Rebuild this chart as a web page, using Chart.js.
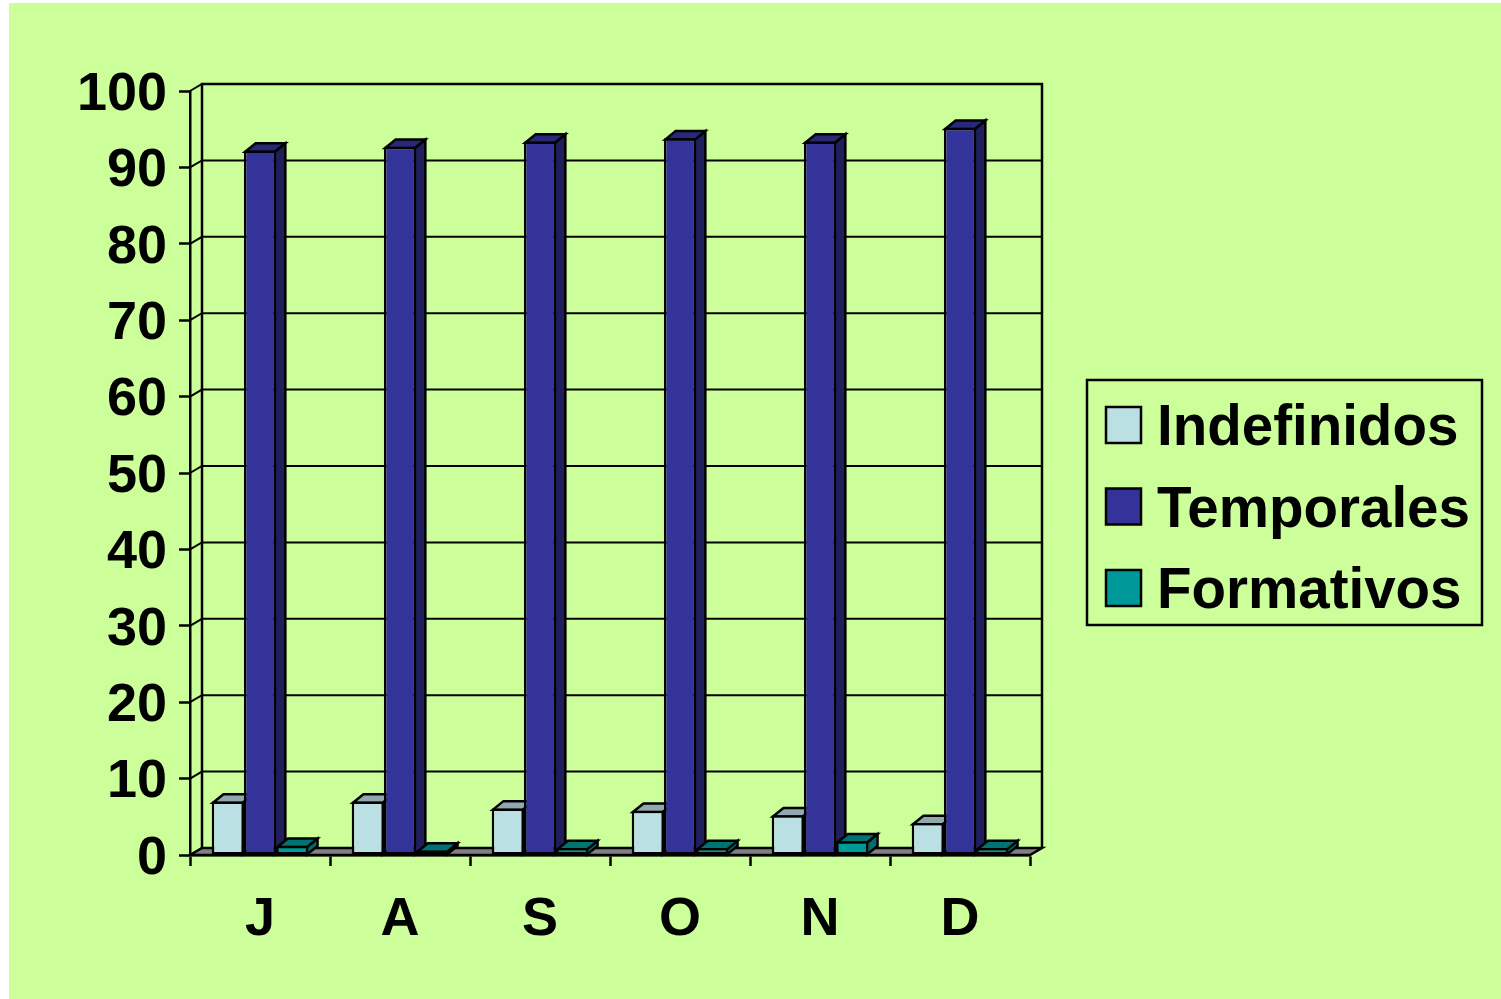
<!DOCTYPE html>
<html>
<head>
<meta charset="utf-8">
<style>
html,body{margin:0;padding:0;background:#fff;width:1501px;height:999px;overflow:hidden}
#panel{position:absolute;left:9px;top:3px;width:1492px;height:996px;background:#CCFF99}
canvas{position:absolute;left:0;top:0}
</style>
<script src="https://cdn.jsdelivr.net/npm/chart.js@4"></script>
</head>
<body>
<div id="panel"></div>
<canvas id="c" width="1501" height="999" style="width:1501px;height:999px"></canvas>
<script>
const categories = ['J','A','S','O','N','D'];
const indefinidos = [7.0,7.0,6.1,5.8,5.2,4.2];
const temporales = [92.2,92.7,93.4,93.8,93.4,95.2];
const formativos = [1.2,0.6,0.9,0.9,1.8,0.9];
const yTicks = {min:0,max:100,step:10};

const WALL = {dx:12,dy:-7};
const DEPTH = {dx:10.5,dy:-8.5};
const BORDER = 2.5;
const faces = [
  {top:'#91A9AE',side:'#7D9195'},
  {top:'#29297A',side:'#1F1F5C'},
  {top:'#007373',side:'#006B6B'}
];

function poly(ctx,pts,fill){
  ctx.beginPath();
  pts.forEach((p,i)=> i?ctx.lineTo(p[0],p[1]):ctx.moveTo(p[0],p[1]));
  ctx.closePath();
  if(fill){ctx.fillStyle=fill;ctx.fill();}
  ctx.stroke();
}

const scene = {
  id:'scene',
  beforeDatasetsDraw(chart){
    const {ctx,chartArea:a,scales:{y}} = chart;
    ctx.save();
    ctx.strokeStyle='#000';ctx.lineWidth=2;ctx.lineJoin='miter';
    const r=a.right+WALL.dx, l=a.left+WALL.dx;
    y.ticks.forEach(t=>{
      const py=y.getPixelForValue(t.value);
      ctx.beginPath();
      ctx.moveTo(a.left,py);ctx.lineTo(l,py+WALL.dy);
      if(t.value>0) ctx.lineTo(r,py+WALL.dy);
      ctx.stroke();
    });
    ctx.lineWidth=2.5;
    ctx.beginPath();
    ctx.moveTo(l,a.bottom+WALL.dy);ctx.lineTo(l,a.top+WALL.dy);
    ctx.lineTo(r,a.top+WALL.dy);ctx.lineTo(r,a.bottom+WALL.dy);
    ctx.stroke();
    poly(ctx,[[a.left,a.bottom],[l,a.bottom+WALL.dy],[r,a.bottom+WALL.dy],[a.right,a.bottom]],'#808080');
    const inset=BORDER/2;
    chart.data.datasets.forEach((ds,i)=>{
      chart.getDatasetMeta(i).data.forEach(b=>{
        const x0=b.x-b.width/2+inset,x1=b.x+b.width/2-inset,t=b.y+inset,bt=b.base;
        poly(ctx,[[x1,t],[x1+DEPTH.dx,t+DEPTH.dy],[x1+DEPTH.dx,bt+DEPTH.dy],[x1,bt]],faces[i].side);
        poly(ctx,[[x0,t],[x0+DEPTH.dx,t+DEPTH.dy],[x1+DEPTH.dx,t+DEPTH.dy],[x1,t]],faces[i].top);
      });
    });
    ctx.restore();
  },
  afterDraw(chart){
    const ctx=chart.ctx;
    ctx.save();
    ctx.strokeStyle='#000';ctx.lineWidth=2.5;
    ctx.strokeRect(1087,380,395,245);
    ctx.font='bold 56.5px "Liberation Sans"';
    ctx.textBaseline='alphabetic';ctx.textAlign='left';
    chart.data.datasets.forEach((ds,i)=>{
      const base=445+i*81.5;
      ctx.fillStyle=ds.backgroundColor;
      ctx.fillRect(1106,base-38,35,36);
      ctx.strokeRect(1106,base-38,35,36);
      ctx.fillStyle='#000';
      ctx.fillText(ds.label,1157,base);
    });
    ctx.restore();
  }
};

const common = {borderColor:'#000',borderWidth:BORDER,borderSkipped:false,barPercentage:1,categoryPercentage:0.69};
new Chart(document.getElementById('c'),{
  type:'bar',
  data:{labels:categories,datasets:[
    {label:'Indefinidos',data:indefinidos,backgroundColor:'#BBE0E3',...common},
    {label:'Temporales',data:temporales,backgroundColor:'#333399',...common},
    {label:'Formativos',data:formativos,backgroundColor:'#009999',...common}
  ]},
  options:{
    responsive:false,animation:false,devicePixelRatio:1,
    layout:{padding:{top:91,right:471,left:0,bottom:0}},
    plugins:{legend:{display:false},tooltip:{enabled:false},title:{display:false}},
    scales:{
      x:{
        afterFit(s){s.height=144;},
        grid:{drawOnChartArea:false,drawTicks:true,tickLength:11,tickColor:'#000',tickWidth:2.5,offset:true},
        border:{color:'#000',width:2.5},
        ticks:{color:'#000',font:{family:'Liberation Sans',weight:'bold',size:54},padding:22,maxRotation:0}
      },
      y:{
        min:yTicks.min,max:yTicks.max,
        afterFit(s){
          s.width=190;
          if(!s._shifted){
            s._shifted=true;
            const f=s._computeLabelItems.bind(s);
            s._computeLabelItems=ca=>f(ca).map(it=>{it.textOffset+=4;return it;});
          }
        },
        grid:{drawOnChartArea:false,drawTicks:true,tickLength:11,tickColor:'#000',tickWidth:2.5},
        border:{color:'#000',width:2.5},
        ticks:{stepSize:yTicks.step,color:'#000',font:{family:'Liberation Sans',weight:'bold',size:54},padding:12}
      }
    }
  },
  plugins:[scene]
});
</script>
</body>
</html>
